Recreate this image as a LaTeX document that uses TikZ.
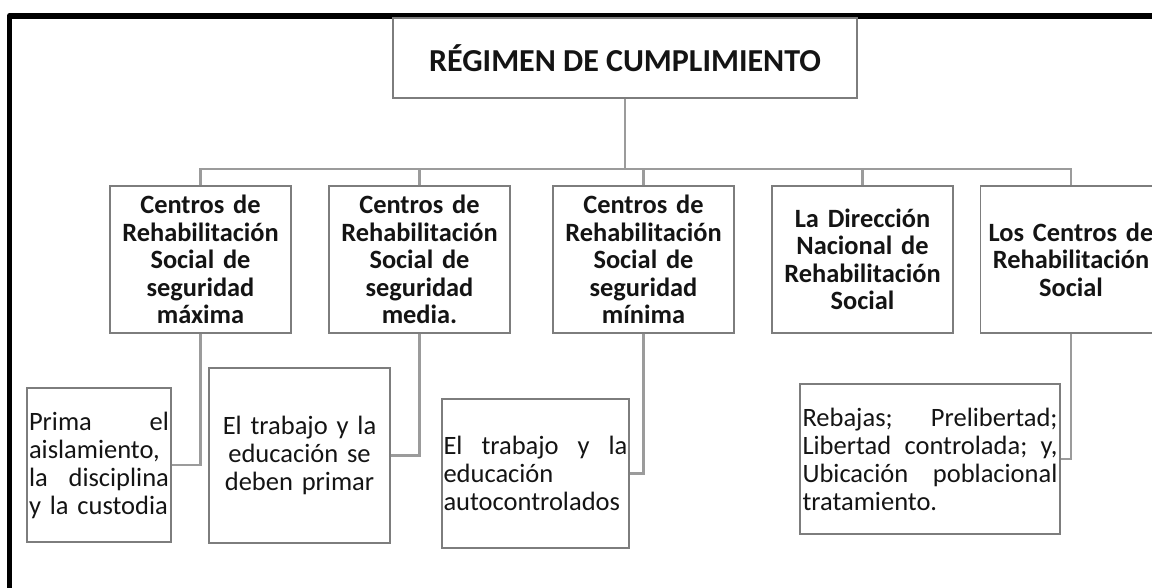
\documentclass[tikz,border=0pt]{standalone}
\usepackage{fontspec}
\setmainfont{Carlito}
\definecolor{boxgray}{RGB}{125,125,125}
\definecolor{conngray}{RGB}{155,155,155}
\definecolor{txt}{RGB}{20,20,20}
\newcommand\jline[1]{\leavevmode\hbox to \hsize{#1}}
\tikzset{
  titlebox/.style={draw=boxgray, line width=1.3pt, minimum width=464pt, minimum height=80pt, inner sep=0pt,
    font=\fontsize{32}{36}\selectfont\bfseries, text=txt},
  lvlbox/.style={draw=boxgray, line width=1.3pt, minimum width=181pt, minimum height=147pt, inner sep=0pt,
    text width=178pt, align=center, font=\fontsize{26.4}{27.5}\selectfont\bfseries, text=txt},
  leafbox/.style={draw=boxgray, line width=1.3pt, inner sep=0pt, font=\fontsize{26.5}{28}\selectfont, text=txt},
  conn/.style={draw=conngray, line width=2.2pt},
  frame/.style={draw=black, line width=5.5pt, line join=round}
}
\begin{document}
\begin{tikzpicture}[x=1pt,y=-1pt]
\useasboundingbox (0,0) rectangle (1152,587);
\clip (0,0) rectangle (1152,587);
\draw[frame] (9.5,700) -- (9.5,15.8) -- (1250,15.8);

\node[titlebox] (top) at (625,58) {RÉGIMEN DE CUMPLIMIENTO};

\node[lvlbox] (b1) at (200.5,259.5) {Centros de\\Rehabilitación\\Social de\\seguridad\\máxima};
\node[lvlbox] (b2) at (419.5,259.5) {Centros de\\Rehabilitación\\Social de\\seguridad\\media.};
\node[lvlbox] (b3) at (643.5,259.5) {Centros de\\Rehabilitación\\Social de\\seguridad\\mínima};
\node[lvlbox] (b4) at (862.5,259.5) {La Dirección\\Nacional de\\Rehabilitación\\Social};
\node[lvlbox] (b5) at (1071,259.5) {Los Centros de\\Rehabilitación\\Social};

\node[leafbox, minimum width=144pt, minimum height=154pt, text width=140pt, align=left] (c1) at (99,465)
  {\jline{Prima\hfill el}\\aislamiento,\\\jline{la\hfill disciplina}\\y la custodia};
\node[leafbox, minimum width=181pt, minimum height=175pt, text width=176pt, align=center] (c2) at (299.5,455.5)
  {El trabajo y la\\educación se\\deben primar};
\node[leafbox, minimum width=187pt, minimum height=149pt, text width=184pt, align=left] (c3) at (535.5,473.5)
  {\jline{El\hfill trabajo\hfill y\hfill la}\\educación\\autocontrolados};
\node[leafbox, minimum width=260pt, minimum height=150pt, text width=255pt, align=left] (c4) at (930,459)
  {\jline{Rebajas;\hfill Prelibertad;}\\\jline{Libertad\hfill controlada;\hfill y,}\\\jline{Ubicación\hfill poblacional}\\tratamiento.};

\coordinate (bus) at (625,169);
\draw[conn] (top.south) -- (top.south |- bus);
\draw[conn] (b1.north) -- (b1.north |- bus) -- (b5.north |- bus) -- (b5.north);
\draw[conn] (b2.north) -- (b2.north |- bus);
\draw[conn] (b3.north) -- (b3.north |- bus);
\draw[conn] (b4.north) -- (b4.north |- bus);

\draw[conn] (b1.south) |- (c1.east);
\draw[conn] (b2.south) |- (c2.east);
\draw[conn] (b3.south) |- (c3.east);
\draw[conn] (b5.south) |- (c4.east);
\end{tikzpicture}
\end{document}
